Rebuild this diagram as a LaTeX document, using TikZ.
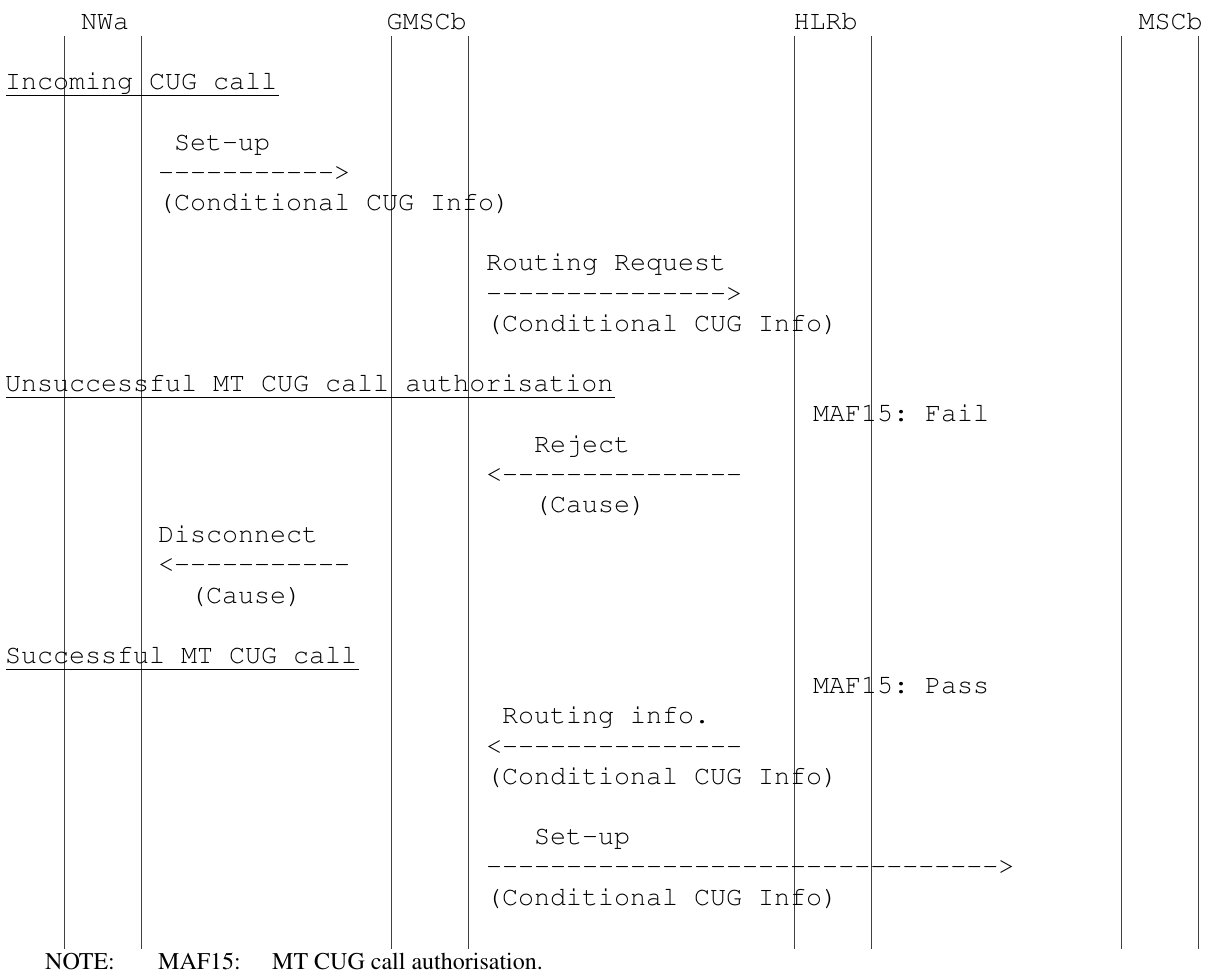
\documentclass[tikz,border=0pt]{standalone}
\usepackage[T1]{fontenc}
\usepackage{tikz}
\usetikzlibrary{positioning}
\newcommand\courfont{\fontfamily{pcr}\fontsize{26.67}{30}\selectfont\frenchspacing}
\newcommand\timesfont{\fontfamily{ptm}\fontsize{24}{27}\selectfont}
% a run of hyphens without the -- ligature
\newcommand\dashes[1]{\foreach \k in {1,...,#1}{-\kern0pt}}

\begin{document}
\begin{tikzpicture}[x=1pt,y=-1pt,
  msg/.style={font=\courfont,inner sep=0pt,anchor=base west},
  notetxt/.style={font=\timesfont,inner sep=0pt,anchor=base west},
  life/.style={black!75,line width=0.8pt},
  uline/.style={black,line width=0.8pt}]
\useasboundingbox (0,0) rectangle (1207,972);
% row r has baseline 150+30.2r; left text column at 158, right column at 486
\def\xl{158}\def\xr{486}
% entities
\node[msg] (nwa) at (81,29) {NWa};
\node[msg] (gmsc) at (386.5,29) {GMSCb};
\node[msg] (hlr) at (793.5,29) {HLRb};
\node[msg] (msc) at (1138.5,29) {MSCb};
% life lines
\foreach \x/\name in {64.5/nwa1,141.5/nwa2,391/gmsc1,468/gmsc2,794.5/hlr1,871/hlr2,1121/msc1,1198/msc2}
  {\coordinate (\name top) at (\x,36);
   \coordinate (\name bot) at (\x,949);
   \draw[life] (\name top)--(\name bot);}
% incoming CUG call
\node[msg] (inc) at (5,89.6) {Incoming CUG call};
\draw[uline] (6,95)--(279,95);
\node[msg] (setup1) at (\xl+16,150) {Set-up};
\node[msg] (arr1) at (\xl,180.2) {\dashes{11}>};
\node[msg] (cond1) at (\xl,210.4) {(Conditional CUG Info)};
\node[msg] (rreq) at (\xr,270.8) {Routing Request};
\node[msg] (arr2) at (\xr,301) {\dashes{15}>};
\node[msg] (cond2) at (\xr,331.2) {(Conditional CUG Info)};
% unsuccessful authorisation
\node[msg] (unsucc) at (5,391.6) {Unsuccessful MT CUG call authorisation};
\draw[uline] (6,397.4)--(615,397.4);
\node[msg] (fail) at (813,421.8) {MAF15: Fail};
\node[msg] (rej) at (\xr+48,452) {Reject};
\node[msg] (arr3) at (\xr,482.2) {<\dashes{15}};
\node[msg] (cause1) at (\xr+48,512.4) {(Cause)};
\node[msg] (disc) at (\xl,542.6) {Disconnect};
\node[msg] (arr4) at (\xl,572.8) {<\dashes{11}};
\node[msg] (cause2) at (\xl+32,603) {(Cause)};
% successful call
\node[msg] (succ) at (5,663.4) {Successful MT CUG call};
\draw[uline] (6,669)--(359,669);
\node[msg] (pass) at (813,693.6) {MAF15: Pass};
\node[msg] (rinfo) at (\xr+16,723.8) {Routing info.};
\node[msg] (arr5) at (\xr,754) {<\dashes{15}};
\node[msg] (cond3) at (\xr,784.2) {(Conditional CUG Info)};
\node[msg] (setup2) at (\xr+48,844.6) {Set-up};
\node[msg] (arr6) at (\xr,874.8) {\dashes{32}>};
\node[msg] (cond4) at (\xr,905) {(Conditional CUG Info)};
% note
\node[notetxt] (note) at (45,969) {NOTE:};
\node[notetxt] (notemaf) at (158,969) {MAF15:};
\node[notetxt] (notetext) at (272,969) {MT CUG call authorisation.};
\end{tikzpicture}
\end{document}
